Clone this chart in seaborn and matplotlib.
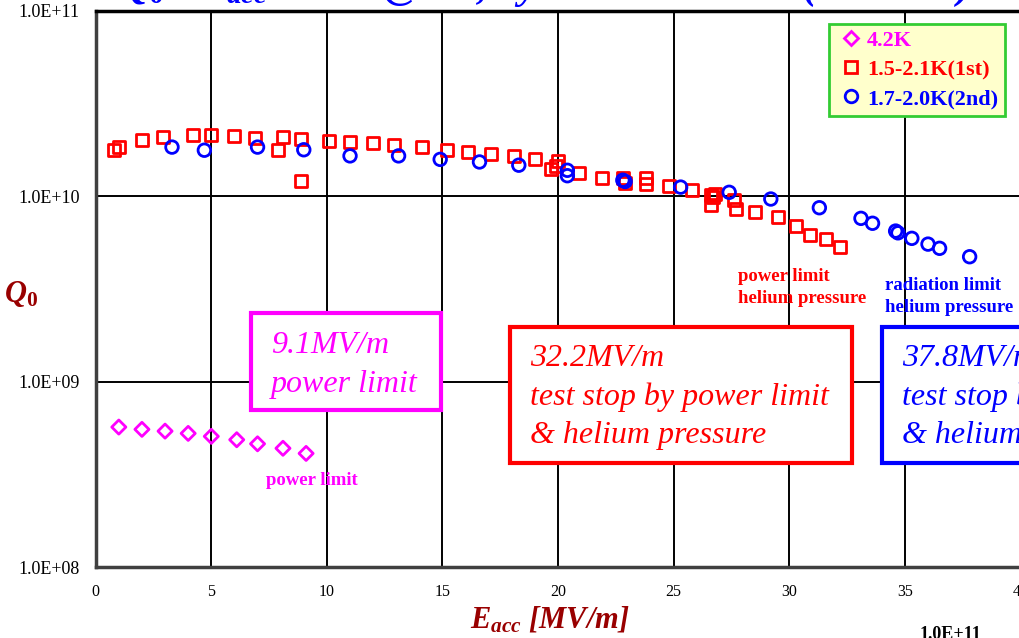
import numpy as np
import pandas as pd
import matplotlib
matplotlib.use("Agg")
import matplotlib.pyplot as plt
from matplotlib.lines import Line2D
from matplotlib.patches import Rectangle
from matplotlib.ticker import FixedLocator, FuncFormatter, NullLocator
import seaborn as sns

# ---- measured data -------------------------------------------------------
# 4.2 K run
e_42k = [1.0, 2.0, 3.0, 4.0, 5.0, 6.1, 7.0, 8.1, 9.1]
q_42k = [5.70e8, 5.54e8, 5.42e8, 5.27e8, 5.08e8, 4.87e8, 4.63e8, 4.38e8, 4.11e8]

# 1.5-2.1 K, first test
e_1st = [0.8, 1.0, 2.0, 2.9, 4.2, 5.0, 6.0, 6.9, 7.9, 8.1, 8.9, 8.9,
         10.1, 11.0, 12.0, 12.9, 14.1, 15.2, 16.1, 17.1, 18.1, 19.0,
         19.7, 19.9, 20.0, 20.9, 21.9, 22.8, 22.9, 23.8, 23.8, 24.8,
         25.8, 26.6, 26.8, 26.6, 26.7, 27.6, 27.7, 28.5, 29.5, 30.3,
         30.9, 31.6, 32.2]
q_1st = [1.77e10, 1.84e10, 2.00e10, 2.09e10, 2.14e10, 2.14e10, 2.11e10,
         2.07e10, 1.77e10, 2.08e10, 1.21e10, 2.03e10, 1.99e10, 1.95e10,
         1.93e10, 1.89e10, 1.84e10, 1.77e10, 1.74e10, 1.69e10, 1.64e10,
         1.58e10, 1.40e10, 1.45e10, 1.54e10, 1.33e10, 1.26e10, 1.25e10,
         1.18e10, 1.26e10, 1.17e10, 1.14e10, 1.08e10, 1.01e10, 1.03e10,
         8.98e9, 9.87e9, 9.54e9, 8.50e9, 8.24e9, 7.74e9, 6.90e9, 6.18e9,
         5.88e9, 5.35e9]

# 1.7-2.0 K, second test
e_2nd = [3.3, 4.7, 7.0, 9.0, 11.0, 13.1, 14.9, 16.6, 18.3, 20.4, 20.4,
         22.8, 22.9, 25.3, 27.4, 29.2, 31.3, 33.1, 33.6, 34.6, 34.7,
         35.3, 36.0, 36.5, 37.8]
q_2nd = [1.84e10, 1.77e10, 1.84e10, 1.78e10, 1.65e10, 1.65e10, 1.58e10,
         1.53e10, 1.47e10, 1.38e10, 1.29e10, 1.22e10, 1.20e10, 1.12e10,
         1.05e10, 9.66e9, 8.67e9, 7.60e9, 7.15e9, 6.49e9, 6.35e9, 5.93e9,
         5.52e9, 5.24e9, 4.72e9]

series_names = ["4.2K", "1.5-2.1K(1st)", "1.7-2.0K(2nd)"]
y_ticks = [1e8, 1e9, 1e10, 1e11]
x_ticks = [0, 5, 10, 15, 20, 25, 30, 35, 40]

df = pd.concat([
    pd.DataFrame({"Eacc": e_42k, "Q0": q_42k, "series": series_names[0]}),
    pd.DataFrame({"Eacc": e_1st, "Q0": q_1st, "series": series_names[1]}),
    pd.DataFrame({"Eacc": e_2nd, "Q0": q_2nd, "series": series_names[2]}),
], ignore_index=True)

styles = {
    series_names[0]: dict(marker="D", color="#FF00FF", s=52),
    series_names[1]: dict(marker="s", color="#FF0000", s=74),
    series_names[2]: dict(marker="o", color="#0000FF", s=82),
}

# ---- figure --------------------------------------------------------------
sns.set_style("white")
plt.rcParams["font.family"] = ["Liberation Serif", "DejaVu Serif"]
plt.rcParams["mathtext.fontset"] = "custom"
plt.rcParams["mathtext.it"] = "Liberation Serif:italic:bold"
plt.rcParams["mathtext.rm"] = "Liberation Serif:bold"
plt.rcParams["mathtext.bf"] = "Liberation Serif:bold"

W, H = 1019, 638
fig = plt.figure(figsize=(W / 100, H / 100), dpi=100)
fig.patch.set_facecolor("white")


def fx(px):
    return px / W


def fy(py):
    return 1 - py / H


ax = fig.add_axes([fx(95.7), fy(567.3), fx(1020.5) - fx(95.7), fy(10.7) - fy(567.3)])
ax.set_facecolor("white")

for name, st in styles.items():
    sub = df[df["series"] == name]
    sns.scatterplot(data=sub, x="Eacc", y="Q0", marker=st["marker"], s=st["s"],
                    color=st["color"], facecolor="none", edgecolor=st["color"],
                    linewidth=2.0, ax=ax, legend=False, zorder=3)

ax.set_yscale("log")
ax.set_xlim(0, 40)
ax.set_ylim(1e8, 1e11)
ax.yaxis.set_major_locator(FixedLocator(y_ticks))
ax.yaxis.set_minor_locator(NullLocator())
ax.yaxis.set_major_formatter(FuncFormatter(lambda v, _: f"{v:.1E}"))
ax.xaxis.set_major_locator(FixedLocator(x_ticks))
ax.set_axisbelow(True)
ax.grid(True, which="major", color="black", linewidth=1.4)

for side in ("left", "bottom"):
    ax.spines[side].set_color("#404040")
    ax.spines[side].set_linewidth(2.5)
ax.spines["top"].set_color("black")
ax.spines["top"].set_linewidth(2.5)
ax.spines["right"].set_visible(False)

ax.tick_params(axis="y", direction="out", length=4, width=1, color="#666666",
               pad=7.5, labelsize=13, labelcolor="black")
ax.tick_params(axis="x", direction="out", length=4, width=1, color="#666666",
               pad=8, labelsize=11.5, labelcolor="black")

label_color = "#990000"
ax.set_xlabel(r"$E_{acc}$ [MV/m]", fontsize=22, fontweight="bold",
              style="italic", color=label_color, va="center")
ax.xaxis.set_label_coords((550 - 95.7) / 924.8, (567.3 - 620) / 556.6)
ax.set_ylabel(r"$Q_0$", fontsize=22, rotation=0, color=label_color,
              va="center", ha="center")
ax.yaxis.set_label_coords((21 - 95.7) / 924.8, (567.3 - 294) / 556.6)

# legend
handles = [Line2D([], [], ls="none", marker=styles[n]["marker"],
                  markersize=np.sqrt(styles[n]["s"]), markerfacecolor="none",
                  markeredgecolor=styles[n]["color"], markeredgewidth=2.0)
           for n in series_names]
leg = ax.legend(handles, series_names, loc="upper right",
                bbox_to_anchor=(fx(1005), fy(24)), bbox_transform=fig.transFigure,
                frameon=True, fancybox=False, facecolor="#FFFFCC",
                edgecolor="#33CC33", framealpha=1,
                prop={"family": "Liberation Serif", "weight": "bold", "size": 16},
                labelcolor=[styles[n]["color"] for n in series_names],
                handlelength=1.3, handletextpad=0.1, borderpad=0.3,
                labelspacing=0.38, borderaxespad=0)
leg.get_frame().set_linewidth(2)
leg.set_zorder(6)


def note_box(x0, y0, x1, y1, color):
    fig.add_artist(Rectangle((fx(x0), fy(y1)), fx(x1) - fx(x0), fy(y0) - fy(y1),
                             transform=fig.transFigure, facecolor="white",
                             edgecolor=color, linewidth=3, zorder=5))


def note_lines(x, y_first, step, lines, color, size, **kw):
    for i, line in enumerate(lines):
        fig.text(fx(x), fy(y_first + i * step), line, color=color, fontsize=size,
                 va="baseline", ha="left", zorder=7, **kw)


# result boxes
note_box(251, 313, 441, 410, "#FF00FF")
note_lines(271, 353, 39, ["9.1MV/m", "power limit"], "#FF00FF", 23, style="italic")

note_box(510, 327, 852, 463, "#FF0000")
note_lines(530, 366, 38.5, ["32.2MV/m", "test stop by power limit", "& helium pressure"],
           "#FF0000", 23, style="italic")

note_box(882, 327, 1040, 463, "#0000FF")
note_lines(902, 366, 38.5, ["37.8MV/m", "test stop by radiation limit", "& helium pressure"],
           "#0000FF", 23, style="italic")

# small cause labels next to the last points
note_lines(266, 485, 22, ["power limit"], "#FF00FF", 13.5, fontweight="bold")
note_lines(738, 281, 22, ["power limit", "helium pressure"], "#FF0000", 13.5,
           fontweight="bold")
note_lines(885, 290, 22, ["radiation limit", "helium pressure"], "#0000FF", 13.5,
           fontweight="bold")

# heading running off the top edge
fig.text(fx(118), fy(-2), r"$Q_0$ - $E_{acc}$ curve @ 2K, by vertical test",
         color="#0000FF", fontsize=30, fontweight="bold", style="italic",
         va="baseline", ha="left")
fig.text(fx(803), fy(-2), "(MHI-08)",
         color="#0000FF", fontsize=30, fontweight="bold", style="italic",
         va="baseline", ha="left")

# axis label of the next panel below
fig.text(fx(920), fy(626), "1.0E+11", color="black", fontsize=13,
         fontweight="bold", va="top", ha="left")

fig.savefig("out.png", dpi=100, facecolor="white")
